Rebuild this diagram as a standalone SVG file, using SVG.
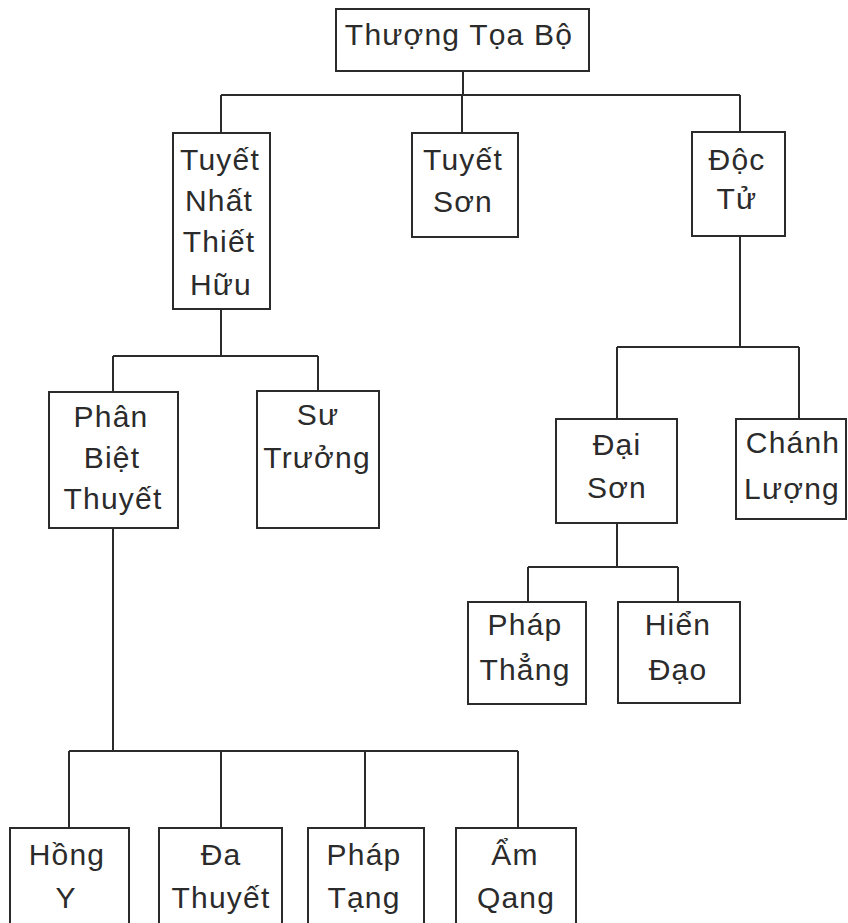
<svg xmlns="http://www.w3.org/2000/svg" width="848" height="923" viewBox="0 0 848 923">
<style>
.box{fill:#ffffff;stroke:#2b2b2b;stroke-width:2}
.c{fill:none;stroke:#2b2b2b;stroke-width:2}
text{font-family:"Liberation Sans",Arial,sans-serif;font-size:30px;fill:#2b2b2b;text-anchor:middle;letter-spacing:1.2px}
</style>
<rect width="848" height="923" fill="#ffffff"/>
<g id="connectors">
<path class="c" d="M463,71V95M221,95H740M221,95V133M462,95V133M740,95V132"/>
<path class="c" d="M221,309V356M113,356H318M113,356V392M318,356V391"/>
<path class="c" d="M740,236V347M617,347H799M617,347V419M799,347V419"/>
<path class="c" d="M617,523V567M528,567H678M528,567V602M678,567V602"/>
<path class="c" d="M113,528V751M69,751H518M69,751V828M221,751V828M365,751V828M518,751V828"/>
</g>
<g id="n-thuong-toa-bo"><rect class="box" x="336" y="9" width="253" height="62"/><text x="459" y="45">Thượng Tọa Bộ</text></g>
<g id="n-tuyet-nhat-thiet-huu"><rect class="box" x="173" y="133" width="97" height="176"/><text x="220" y="170">Tuyết</text><text x="219" y="211">Nhất</text><text x="219" y="252">Thiết</text><text x="221" y="295">Hữu</text></g>
<g id="n-tuyet-son"><rect class="box" x="412" y="133" width="106" height="104"/><text x="463" y="170">Tuyết</text><text x="463" y="212">Sơn</text></g>
<g id="n-doc-tu"><rect class="box" x="692" y="132" width="93" height="104"/><text x="737" y="170">Độc</text><text x="737" y="209">Tử</text></g>
<g id="n-phan-biet-thuyet"><rect class="box" x="49" y="392" width="129" height="136"/><text x="111" y="427">Phân</text><text x="112" y="468">Biệt</text><text x="113" y="509">Thuyết</text></g>
<g id="n-su-truong"><rect class="box" x="257" y="391" width="122" height="137"/><text x="318" y="425">Sư</text><text x="317" y="468">Trưởng</text></g>
<g id="n-dai-son"><rect class="box" x="556" y="419" width="121" height="104"/><text x="617" y="455">Đại</text><text x="617" y="498">Sơn</text></g>
<g id="n-chanh-luong"><rect class="box" x="736" y="419" width="110" height="100"/><text x="793" y="453">Chánh</text><text x="792" y="499">Lượng</text></g>
<g id="n-phap-thang"><rect class="box" x="468" y="602" width="118" height="102"/><text x="525" y="635">Pháp</text><text x="525" y="680">Thẳng</text></g>
<g id="n-hien-dao"><rect class="box" x="618" y="602" width="122" height="101"/><text x="678" y="635">Hiển</text><text x="678" y="680">Đạo</text></g>
<g id="n-hong-y"><rect class="box" x="10" y="828" width="119" height="100"/><text x="67" y="865">Hồng</text><text x="66" y="908">Y</text></g>
<g id="n-da-thuyet"><rect class="box" x="159" y="828" width="123" height="100"/><text x="221" y="865">Đa</text><text x="221" y="908">Thuyết</text></g>
<g id="n-phap-tang"><rect class="box" x="308" y="828" width="116" height="100"/><text x="364" y="865">Pháp</text><text x="364" y="908">Tạng</text></g>
<g id="n-am-qang"><rect class="box" x="456" y="828" width="120" height="100"/><text x="515" y="865">Ẩm</text><text x="516" y="908">Qang</text></g>
</svg>
